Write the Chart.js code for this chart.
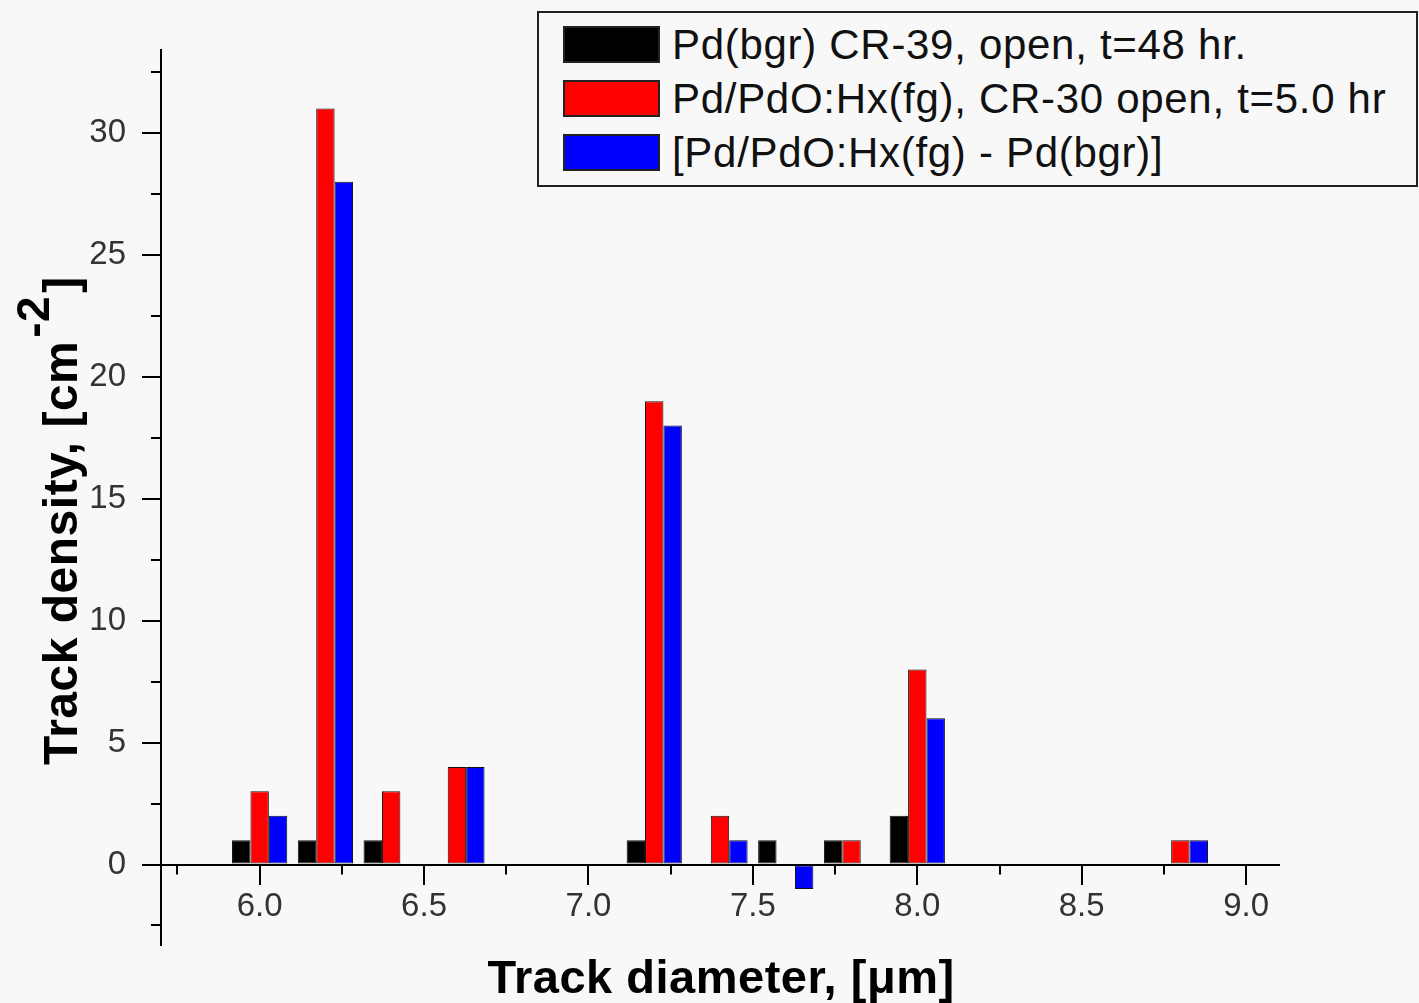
<!DOCTYPE html>
<html>
<head>
<meta charset="utf-8">
<script src="https://cdn.jsdelivr.net/npm/chart.js@4.4.1/dist/chart.umd.min.js"></script>
<style>
  html, body { margin: 0; padding: 0; background: #f8f8f8; }
  #wrap { position: relative; width: 1419px; height: 1003px; overflow: hidden; }
  #legend {
    position: absolute; left: 537px; top: 11px; width: 881px; height: 176px;
    box-sizing: border-box; border: 2px solid #222; background: #f8f8f8;
    font-family: 'Liberation Sans', Arial, sans-serif; font-size: 42px;
    letter-spacing: 0.7px; color: #111;
  }
  .row { position: absolute; left: 24px; height: 37px; display: flex; align-items: center; white-space: nowrap; line-height: 37px; }
  .swatch { width: 97px; height: 37px; box-sizing: border-box; border: 2px solid #222; margin-right: 12px; }
</style>
</head>
<body>
<div id="wrap">
  <canvas id="chart" width="1419" height="1003"></canvas>
  <div id="legend"></div>
</div>
<script>
// Track diameter groups [um] and densities [cm^-2]; null = no bar drawn
const diameters = [6.0, 6.2, 6.4, 6.6, 7.2, 7.4, 7.6, 7.8, 8.0, 8.8];
const bgrDensity = [1, 1, 1, null, 1, null, 1, 1, 2, null];
const fgDensity = [3, 31, 3, 4, 19, 2, null, 1, 8, 1];
const diffDensity = [2, 28, null, 4, 18, 1, -1, null, 6, 1];

const seriesLabels = [
  'Pd(bgr) CR-39, open, t=48 hr.',
  'Pd/PdO:Hx(fg), CR-30 open, t=5.0 hr',
  '[Pd/PdO:Hx(fg) - Pd(bgr)]',
];
const seriesColors = ['#000000', '#ff0000', '#0000ff'];

const xTicks = [6.0, 6.5, 7.0, 7.5, 8.0, 8.5, 9.0];
const xMinorTicks = [5.75, 6.25, 6.75, 7.25, 7.75, 8.25, 8.75];
const yTicks = [0, 5, 10, 15, 20, 25, 30];
const yMinorTicks = [-2.5, 2.5, 7.5, 12.5, 17.5, 22.5, 27.5, 32.5];

const FONT = "'Liberation Sans', Arial, sans-serif";

// minor ticks + axis titles (y title needs a superscript)
const axisExtras = {
  id: 'axisExtras',
  afterDraw(chart) {
    const { ctx, chartArea } = chart;
    const x = chart.scales.x;
    const y = chart.scales.y;
    const zeroY = y.getPixelForValue(0);

    ctx.save();
    ctx.strokeStyle = '#000';
    ctx.lineWidth = 2;
    ctx.beginPath();
    xMinorTicks.forEach(v => {
      const px = Math.round(x.getPixelForValue(v));
      ctx.moveTo(px, zeroY);
      ctx.lineTo(px, zeroY + 10);
    });
    yMinorTicks.forEach(v => {
      const py = Math.round(y.getPixelForValue(v));
      ctx.moveTo(chartArea.left, py);
      ctx.lineTo(chartArea.left - 10, py);
    });
    ctx.stroke();

    ctx.fillStyle = '#000';
    ctx.textBaseline = 'alphabetic';
    ctx.letterSpacing = '0.5px';

    // x title
    ctx.font = 'bold 47px ' + FONT;
    ctx.textAlign = 'center';
    ctx.fillText('Track diameter, [\u03BCm]', (chartArea.left + chartArea.right) / 2 + 1, 993);

    // y title
    ctx.textAlign = 'left';
    ctx.translate(77, 765);
    ctx.rotate(-Math.PI / 2);
    ctx.font = 'bold 48px ' + FONT;
    const main = 'Track density, [cm';
    ctx.fillText(main, 0, 0);
    let pos = ctx.measureText(main).width + 3;
    ctx.font = 'bold 46px ' + FONT;
    ctx.fillText('-2', pos, -28);
    pos += ctx.measureText('-2').width + 3;
    ctx.font = 'bold 48px ' + FONT;
    ctx.fillText(']', pos, 0);
    ctx.restore();
  },
};

const datasets = [bgrDensity, fgDensity, diffDensity].map((vals, i) => ({
  label: seriesLabels[i],
  data: diameters.map((d, j) => ({ x: d, y: vals[j] })),
  backgroundColor: seriesColors[i],
  borderColor: '#111',
  borderWidth: 1,
  borderSkipped: false,
  categoryPercentage: 0.84,
  barPercentage: 1.0,
}));

const ctx = document.getElementById('chart').getContext('2d');
const chart = new Chart(ctx, {
  type: 'bar',
  data: { datasets },
  options: {
    responsive: false,
    animation: false,
    devicePixelRatio: 1,
    layout: { padding: { left: 0, top: 50, right: 140, bottom: 58 } },
    plugins: {
      legend: { display: false },
      tooltip: { enabled: false },
    },
    scales: {
      x: {
        type: 'linear',
        position: { y: 0 },
        min: 5.7,
        max: 9.1,
        offset: false,
        afterFit: s => { s.height = 0; },
        afterBuildTicks: s => { s.ticks = xTicks.map(v => ({ value: v })); },
        grid: { display: true, offset: false, drawOnChartArea: false, drawTicks: true, tickLength: 19, color: '#000', lineWidth: 2 },
        border: { display: true, color: '#000', width: 2 },
        ticks: {
          padding: 4,
          color: '#333',
          font: { family: FONT, size: 33 },
          maxRotation: 0,
          autoSkip: false,
          callback: v => Number(v).toFixed(1),
        },
      },
      y: {
        type: 'linear',
        min: -3.3,
        max: 33.4,
        afterFit: s => { s.width = 161; },
        afterBuildTicks: s => { s.ticks = yTicks.map(v => ({ value: v })); },
        grid: { display: true, drawOnChartArea: false, drawTicks: true, tickLength: 19, color: '#000', lineWidth: 2 },
        border: { display: true, color: '#000', width: 2 },
        ticks: {
          padding: 16,
          color: '#333',
          font: { family: FONT, size: 33 },
        },
      },
    },
  },
  plugins: [axisExtras],
});

// HTML legend built from the dataset labels/colours
const legend = document.getElementById('legend');
seriesLabels.forEach((label, i) => {
  const row = document.createElement('div');
  row.className = 'row';
  row.style.top = (12.7 + i * 54.3) + 'px';
  const sw = document.createElement('span');
  sw.className = 'swatch';
  sw.style.background = seriesColors[i];
  const txt = document.createElement('span');
  txt.textContent = label;
  row.appendChild(sw);
  row.appendChild(txt);
  legend.appendChild(row);
});
</script>
</body>
</html>
